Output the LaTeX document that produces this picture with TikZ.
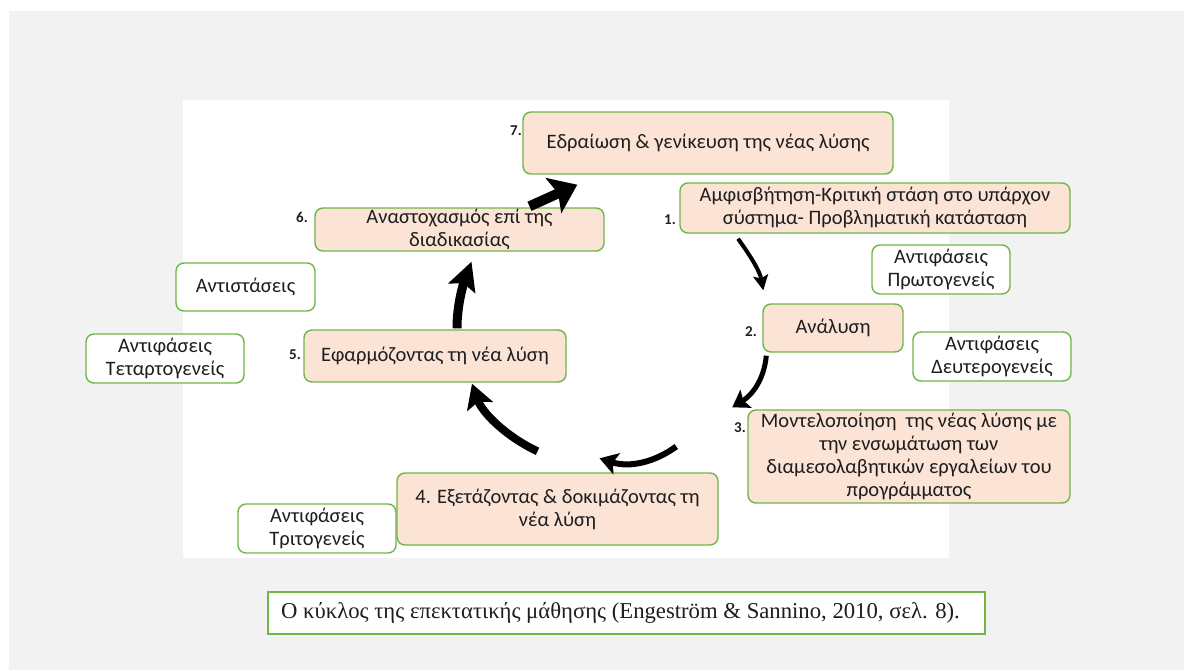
\documentclass[tikz,border=0pt]{standalone}
\usepackage{fontspec}
\setmainfont{Carlito}
\newfontfamily\captionfont{Liberation Serif}
\usetikzlibrary{arrows.meta,calc}
\definecolor{boxgreen}{RGB}{112,182,70}
\definecolor{peach}{RGB}{251,227,214}
\definecolor{pagegray}{RGB}{242,242,242}
\definecolor{ink}{RGB}{30,30,30}
\begin{document}
\begin{tikzpicture}[x=1pt,y=-1pt,
  stagebox/.style={draw=boxgreen, fill=peach, line width=1.4pt, rounded corners=8pt,
    align=center, text=ink, inner sep=0pt, font=\fontsize{20.5}{23}\selectfont},
  contrabox/.style={stagebox, fill=white},
  numlabel/.style={font=\bfseries\fontsize{15}{15}\selectfont, text=ink, inner sep=0pt},
  flow/.style={draw=black, line cap=butt}
]
% page and panels
\useasboundingbox (0,0) rectangle (1184,670);
\fill[white] (0,0) rectangle (1184,670);
\fill[pagegray] (9,11) rectangle (1184,670);
\fill[white] (183,100) rectangle (949,558);

% stages of the cycle
\node[stagebox, minimum width=370, minimum height=62] (n7) at (708,143)
  {Εδραίωση \& γενίκευση της νέας λύσης};
\node[stagebox, minimum width=390, minimum height=50] (n1) at (875,208)
  {Αμφισβήτηση-Κριτική στάση στο υπάρχον\\σύστημα- Προβληματική κατάσταση};
\node[stagebox, minimum width=140, minimum height=48] (n2) at (833,328) {Ανάλυση};
\node[stagebox, minimum width=322, minimum height=93] (n3) at (909,456.5)
  {Μοντελοποίηση\ \ της νέας λύσης με\\την ενσωμάτωση των\\διαμεσολαβητικών εργαλείων του\\προγράμματος};
\node[stagebox, minimum width=321, minimum height=72] (n4) at (557.5,509)
  {4. Εξετάζοντας \& δοκιμάζοντας τη\\νέα λύση};
\node[stagebox, minimum width=262, minimum height=52] (n5) at (435,356)
  {Εφαρμόζοντας τη νέα λύση};
\node[stagebox, minimum width=289, minimum height=43] (n6) at (459.5,229.5)
  {Αναστοχασμός επί της\\διαδικασίας};

% contradictions and resistances
\node[contrabox, minimum width=138, minimum height=49] (p1) at (941,269.5)
  {Αντιφάσεις\\Πρωτογενείς};
\node[contrabox, minimum width=158, minimum height=49] (p2) at (992,356.5)
  {Αντιφάσεις\\Δευτερογενείς};
\node[contrabox, minimum width=158, minimum height=49] (p3) at (317,528.5)
  {Αντιφάσεις\\Τριτογενείς};
\node[contrabox, minimum width=158, minimum height=49] (p4) at (165,358.5)
  {Αντιφάσεις\\Τεταρτογενείς};
\node[contrabox, minimum width=139, minimum height=48] (res) at (245.5,287)
  {Αντιστάσεις};

% step numbers
\node[numlabel] (l7) at (516,131) {7.};
\node[numlabel] (l1) at (670,220) {1.};
\node[numlabel] (l2) at (751,332) {2.};
\node[numlabel] (l3) at (740,428) {3.};
\node[numlabel] (l5) at (295,355) {5.};
\node[numlabel] (l6) at (302,217) {6.};

% arrows around the cycle
\draw[flow, line width=4pt, -{Stealth[length=15pt,width=15pt,inset=3pt]}]
  ($(n1.south)+(-137,5)$) .. controls (752,258) and (760,272) .. ($(n2.north west)+(1,-13)$);
\draw[flow, line width=5pt, -{Stealth[length=16pt,width=21pt,inset=3pt]}]
  ($(n2.south west)+(4,3)$) .. controls (764,380) and (752,395) .. ($(n3.north west)+(-15,-2)$);
\draw[flow, line width=6pt, -{Stealth[length=18pt,width=22pt,inset=4pt]}]
  ($(n3.west)+(-71,-10)$) .. controls (655,462) and (630,468) .. ($(n4.north)+(42,-14)$);
\draw[flow, line width=8pt, -{Stealth[length=24pt,width=27pt,inset=5pt]}]
  ($(n4.north)+(-20,-21)$) .. controls (505,436) and (482,412) .. ($(n5.south)+(37,1)$);
\draw[flow, line width=9pt, -{Stealth[length=28pt,width=28pt,inset=5pt]}]
  ($(n5.north)+(22,-1)$) .. controls (457,305) and (463,285) .. ($(n6.south)+(12,10)$);
\draw[flow, line width=10pt, -{Stealth[length=26pt,width=38pt,inset=5pt]}]
  ($(n6.north)+(70,-1)$) -- ($(n7.south west)+(55,10)$);

% caption
\node[draw=boxgreen, fill=white, line width=1.4pt, minimum width=717, minimum height=42,
  inner sep=0pt, text=ink, font=\captionfont\fontsize{22.7}{26}\selectfont] (cap) at (626.5,613)
  {\hspace*{-12pt}Ο κύκλος της επεκτατικής μάθησης (Engeström \& Sannino, 2010, σελ. 8).};
\end{tikzpicture}
\end{document}
